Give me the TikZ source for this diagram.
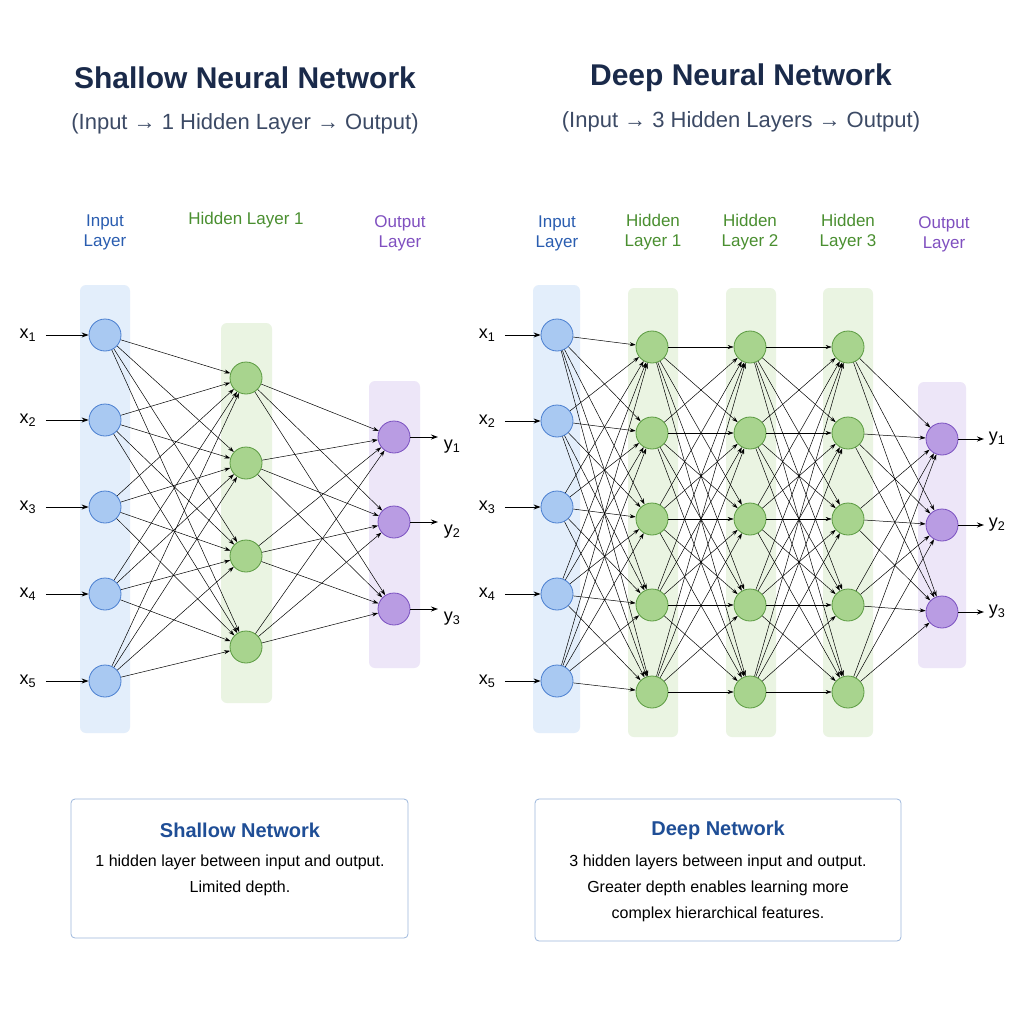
\documentclass[tikz,border=0pt]{standalone}
\usepackage{fontspec}
\setmainfont{Liberation Sans}
\usetikzlibrary{arrows.meta}
\definecolor{inF}{HTML}{A9C9F2}\definecolor{inD}{HTML}{4A7FD0}
\definecolor{hF}{HTML}{A8D48E}\definecolor{hD}{HTML}{5A9A40}
\definecolor{oF}{HTML}{B99CE3}\definecolor{oD}{HTML}{7A50C0}
\definecolor{inB}{HTML}{E3EEFB}\definecolor{hB}{HTML}{EAF4E2}\definecolor{oB}{HTML}{EDE6F8}
\definecolor{inT}{HTML}{2A5DB0}\definecolor{hT}{HTML}{4A8F30}\definecolor{oT}{HTML}{8050C0}
\definecolor{ttl}{HTML}{1A2A4A}\definecolor{bxT}{HTML}{1F4E96}\definecolor{bxD}{HTML}{9DB8DC}
\tikzset{
 neu/.style={circle,minimum size=32pt,inner sep=0pt,line width=0.8pt},
 inn/.style={neu,fill=inF,draw=inD},
 hid/.style={neu,fill=hF,draw=hD},
 outn/.style={neu,fill=oF,draw=oD},
 conn/.style={-{Stealth[length=6pt,width=4pt]},line width=0.5pt},
 ioarr/.style={-{Stealth[length=7pt,width=5pt]},line width=0.9pt},
 lyr/.style={font=\fontsize{17}{20}\selectfont,align=center},
 ttlS/.style={font=\fontsize{30}{34}\selectfont\bfseries,text=ttl},
 subS/.style={font=\fontsize{22}{26}\selectfont,text=ttl!85},
 bx/.style={draw=bxD,line width=0.8pt,rounded corners=4pt,fill=white},
 bxt/.style={font=\fontsize{20}{24}\selectfont\bfseries,text=bxT},
 bxb/.style={font=\fontsize{16}{26}\selectfont,align=center},
 vlab/.style={font=\fontsize{18}{20}\selectfont}
}
\begin{document}
\begin{tikzpicture}[x=1pt,y=-1pt]
\useasboundingbox[fill=white] (0,0) rectangle (1024,1024);
% ---------- shallow ----------
\node[ttlS] (t1) at (245,78) {Shallow Neural Network};
\node[subS] (s1) at (245,124) {(Input → 1 Hidden Layer → Output)};
\fill[inB,rounded corners=6pt] (80,285) rectangle (130,733);
\fill[hB,rounded corners=6pt] (221,323) rectangle (272,703);
\fill[oB,rounded corners=6pt] (369,381) rectangle (420,668);
\node[lyr,text=inT] (l1a) at (105,232) {Input\\Layer};
\node[lyr,text=hT] (l1b) at (246,220) {Hidden Layer 1};
\node[lyr,text=oT] (l1c) at (400,233) {Output\\Layer};
\foreach \y [count=\i] in {335,420,507,594,681}{
 \node[inn] (a\i) at (105,\y) {};
 \node[vlab] (ax\i) at (28,\y) {x\textsubscript{\i}};
 \draw[ioarr] (ax\i.east)++(6,0) coordinate (ac\i) -- (a\i.west);
}
\foreach \y [count=\i] in {378,463,556,647}{\node[hid] (b\i) at (246,\y) {};}
\foreach \y [count=\i] in {437,522,609}{
 \node[outn] (c\i) at (394,\y) {};
 \node[vlab] (cy\i) at (452,\y+10) {y\textsubscript{\i}};
 \coordinate (ce\i) at (438,\y);
 \draw[ioarr] (c\i.east) -- (ce\i);
}
\foreach \i in {1,...,5}{\foreach \j in {1,...,4}{\draw[conn] (a\i) -- (b\j);}}
\foreach \i in {1,...,4}{\foreach \j in {1,...,3}{\draw[conn] (b\i) -- (c\j);}}
\draw[bx] (71,799) rectangle (408,938);
\node[bxt] (bt1) at (240,830) {Shallow Network};
\node[bxb] (bb1) at (240,875) {1 hidden layer between input and output.\\Limited depth.};
% ---------- deep ----------
\node[ttlS] (t2) at (741,78) {Deep Neural Network};
\node[subS] (s2) at (741,122) {(Input → 3 Hidden Layers → Output)};
\fill[inB,rounded corners=6pt] (533,285) rectangle (580,733);
\foreach \x in {653,751,848}{\fill[hB,rounded corners=6pt] (\x-25,288) rectangle (\x+25,737);}
\fill[oB,rounded corners=6pt] (918,382) rectangle (966,668);
\node[lyr,text=inT] (l2a) at (557,233) {Input\\Layer};
\node[lyr,text=hT] (l2b) at (653,232) {Hidden\\Layer 1};
\node[lyr,text=hT] (l2c) at (750,232) {Hidden\\Layer 2};
\node[lyr,text=hT] (l2d) at (848,232) {Hidden\\Layer 3};
\node[lyr,text=oT] (l2e) at (944,234) {Output\\Layer};
\foreach \y [count=\i] in {335,421,507,594,681}{
 \node[inn] (d\i) at (557,\y) {};
 \node[vlab] (dx\i) at (487,\y) {x\textsubscript{\i}};
 \draw[ioarr] (dx\i.east)++(6,0) coordinate (dc\i) -- (d\i.west);
}
\foreach \y [count=\i] in {347,433,519,605,692}{
 \node[hid] (e\i) at (652,\y) {};
 \node[hid] (f\i) at (750,\y) {};
 \node[hid] (g\i) at (848,\y) {};
}
\foreach \y [count=\i] in {439,525,612}{
 \node[outn] (h\i) at (942,\y) {};
 \node[vlab] (hy\i) at (997,\y) {y\textsubscript{\i}};
 \coordinate (he\i) at (984,\y);
 \draw[ioarr] (h\i.east) -- (he\i);
}
\foreach \i in {1,...,5}{\foreach \j in {1,...,5}{
 \draw[conn] (d\i) -- (e\j); \draw[conn] (e\i) -- (f\j); \draw[conn] (f\i) -- (g\j);}}
\foreach \i in {1,...,5}{\foreach \j in {1,...,3}{\draw[conn] (g\i) -- (h\j);}}
\draw[bx] (535,799) rectangle (901,941);
\node[bxt] (bt2) at (718,830) {Deep Network};
\node[bxb] (bb2) at (718,888) {3 hidden layers between input and output.\\Greater depth enables learning more\\complex hierarchical features.};
\end{tikzpicture}
\end{document}
